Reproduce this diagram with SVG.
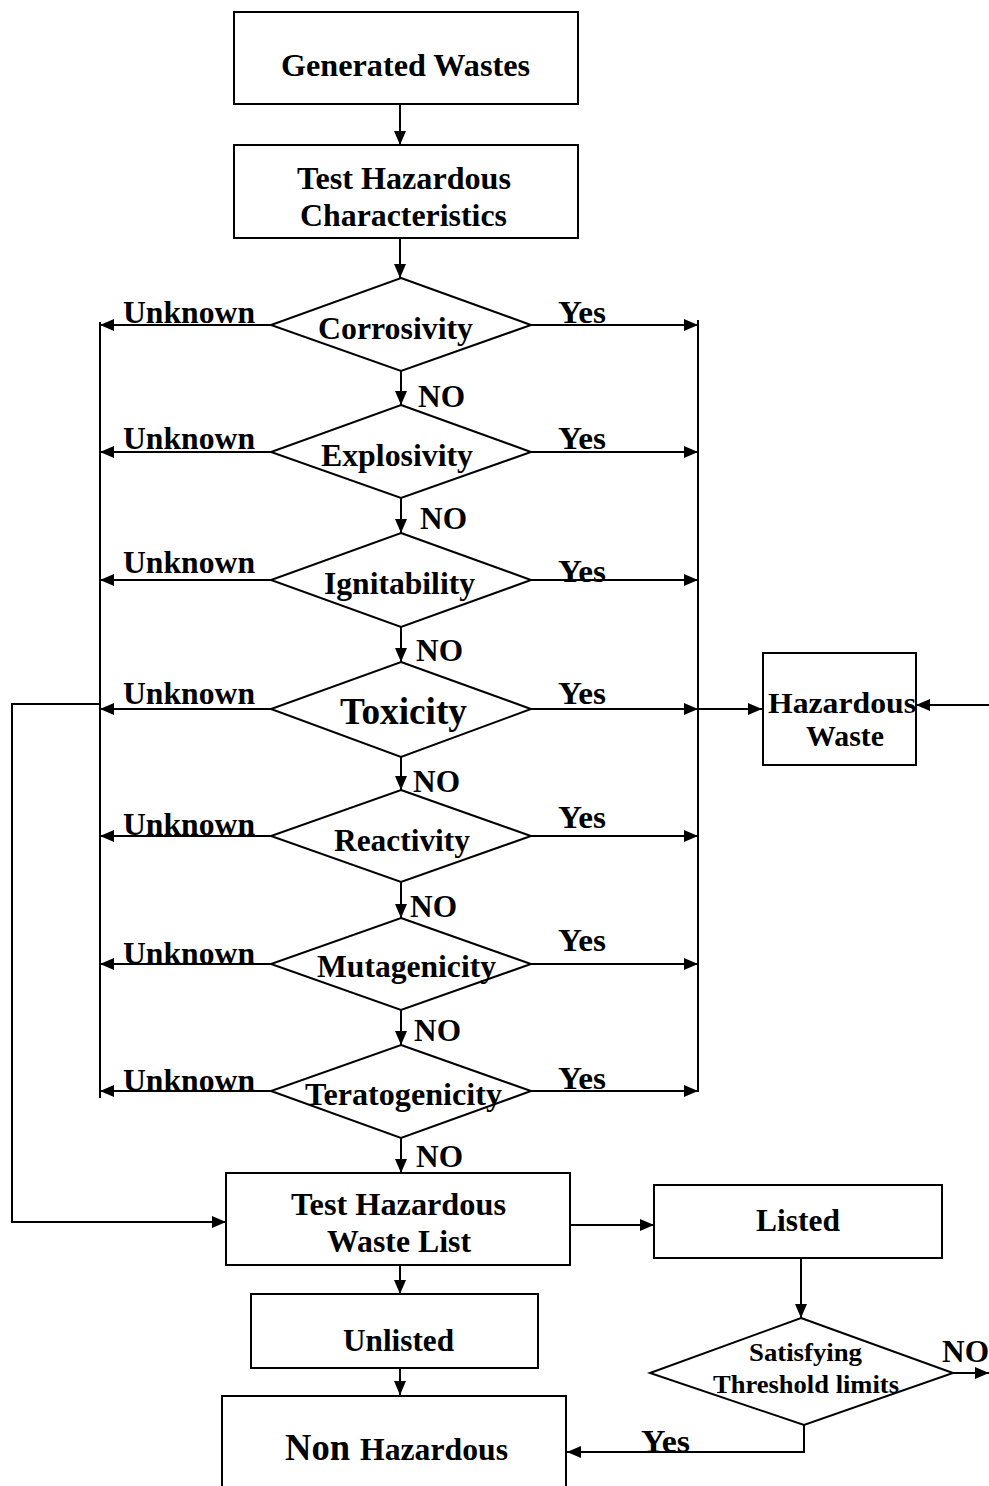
<svg xmlns="http://www.w3.org/2000/svg" width="989" height="1486" viewBox="0 0 989 1486">
<style>
.t{font-family:"Liberation Serif","Times New Roman",serif;font-weight:bold;fill:#000}
.b{fill:#fff;stroke:#000;stroke-width:2}
.c{fill:none;stroke:#000;stroke-width:2}
</style>
<defs>
<marker id="ah" viewBox="0 0 14 12" refX="14" refY="6" markerWidth="14" markerHeight="12" markerUnits="userSpaceOnUse" orient="auto"><path d="M0,0 L14,6 L0,12 z" fill="#000"/></marker>
</defs>
<rect width="989" height="1486" fill="#fff"/>
<g id="connectors">
<path class="c" d="M400,104 V145" marker-end="url(#ah)"/>
<path class="c" d="M400,238 V278" marker-end="url(#ah)"/>
<path class="c" d="M401,371 V405" marker-end="url(#ah)"/>
<path class="c" d="M401,498 V533" marker-end="url(#ah)"/>
<path class="c" d="M401,627 V662" marker-end="url(#ah)"/>
<path class="c" d="M401,757 V790" marker-end="url(#ah)"/>
<path class="c" d="M401,882 V918" marker-end="url(#ah)"/>
<path class="c" d="M401,1010 V1045" marker-end="url(#ah)"/>
<path class="c" d="M401,1138 V1173" marker-end="url(#ah)"/>
<path class="c" d="M100,322 V1098"/>
<path class="c" d="M698,320 V1092"/>
<path class="c" d="M271,325 H100" marker-end="url(#ah)"/>
<path class="c" d="M271,452 H100" marker-end="url(#ah)"/>
<path class="c" d="M271,580 H100" marker-end="url(#ah)"/>
<path class="c" d="M271,709 H100" marker-end="url(#ah)"/>
<path class="c" d="M271,836 H100" marker-end="url(#ah)"/>
<path class="c" d="M271,964 H100" marker-end="url(#ah)"/>
<path class="c" d="M271,1091 H100" marker-end="url(#ah)"/>
<path class="c" d="M531,325 H698" marker-end="url(#ah)"/>
<path class="c" d="M531,452 H698" marker-end="url(#ah)"/>
<path class="c" d="M531,580 H698" marker-end="url(#ah)"/>
<path class="c" d="M531,709 H698" marker-end="url(#ah)"/>
<path class="c" d="M531,836 H698" marker-end="url(#ah)"/>
<path class="c" d="M531,964 H698" marker-end="url(#ah)"/>
<path class="c" d="M531,1091 H698" marker-end="url(#ah)"/>
<path class="c" d="M698,709 H762" marker-end="url(#ah)"/>
<path class="c" d="M989,705 H916" marker-end="url(#ah)"/>
<path class="c" d="M100,704 H12 V1222 H226" marker-end="url(#ah)"/>
<path class="c" d="M570,1225 H654" marker-end="url(#ah)"/>
<path class="c" d="M400,1265 V1294" marker-end="url(#ah)"/>
<path class="c" d="M400,1368 V1395" marker-end="url(#ah)"/>
<path class="c" d="M801,1258 V1318" marker-end="url(#ah)"/>
<path class="c" d="M953,1373 H989" marker-end="url(#ah)"/>
<path class="c" d="M804,1425 V1452 H567" marker-end="url(#ah)"/>
</g>
<g id="generated">
<rect class="b" x="234" y="12" width="344" height="92"/>
<text class="t" x="281" y="76" font-size="31" textLength="249" lengthAdjust="spacingAndGlyphs">Generated Wastes</text>
</g>
<g id="testchar">
<rect class="b" x="234" y="145" width="344" height="93"/>
<text class="t" x="297" y="189" font-size="31" textLength="214" lengthAdjust="spacingAndGlyphs">Test Hazardous</text>
<text class="t" x="300" y="226" font-size="31" textLength="207" lengthAdjust="spacingAndGlyphs">Characteristics</text>
</g>
<g id="corrosivity">
<polygon class="b" points="401,278 531,325 401,371 271,325"/>
<text class="t" x="318" y="339" font-size="31" textLength="155" lengthAdjust="spacingAndGlyphs">Corrosivity</text>
</g>
<g id="explosivity">
<polygon class="b" points="401,405 531,452 401,498 271,452"/>
<text class="t" x="321" y="466" font-size="31" textLength="152" lengthAdjust="spacingAndGlyphs">Explosivity</text>
</g>
<g id="ignitability">
<polygon class="b" points="401,533 531,580 401,627 271,580"/>
<text class="t" x="324" y="594" font-size="31" textLength="151" lengthAdjust="spacingAndGlyphs">Ignitability</text>
</g>
<g id="toxicity">
<polygon class="b" points="401,662 531,709 401,757 271,709"/>
<text class="t" x="340" y="724" font-size="37" textLength="127" lengthAdjust="spacingAndGlyphs">Toxicity</text>
</g>
<g id="reactivity">
<polygon class="b" points="401,790 531,836 401,882 271,836"/>
<text class="t" x="334" y="851" font-size="31" textLength="136" lengthAdjust="spacingAndGlyphs">Reactivity</text>
</g>
<g id="mutagenicity">
<polygon class="b" points="401,918 531,964 401,1010 271,964"/>
<text class="t" x="317" y="977" font-size="31" textLength="179" lengthAdjust="spacingAndGlyphs">Mutagenicity</text>
</g>
<g id="teratogenicity">
<polygon class="b" points="401,1045 531,1091 401,1138 271,1091"/>
<text class="t" x="305" y="1105" font-size="31" textLength="197" lengthAdjust="spacingAndGlyphs">Teratogenicity</text>
</g>
<g id="labels">
<text class="t" x="123" y="323" font-size="31" textLength="132" lengthAdjust="spacingAndGlyphs">Unknown</text>
<text class="t" x="123" y="449" font-size="31" textLength="132" lengthAdjust="spacingAndGlyphs">Unknown</text>
<text class="t" x="123" y="573" font-size="31" textLength="132" lengthAdjust="spacingAndGlyphs">Unknown</text>
<text class="t" x="123" y="704" font-size="31" textLength="132" lengthAdjust="spacingAndGlyphs">Unknown</text>
<text class="t" x="123" y="835" font-size="31" textLength="132" lengthAdjust="spacingAndGlyphs">Unknown</text>
<text class="t" x="123" y="964" font-size="31" textLength="132" lengthAdjust="spacingAndGlyphs">Unknown</text>
<text class="t" x="123" y="1091" font-size="31" textLength="132" lengthAdjust="spacingAndGlyphs">Unknown</text>
<text class="t" x="558" y="323" font-size="31" textLength="48" lengthAdjust="spacingAndGlyphs">Yes</text>
<text class="t" x="558" y="449" font-size="31" textLength="48" lengthAdjust="spacingAndGlyphs">Yes</text>
<text class="t" x="558" y="582" font-size="31" textLength="48" lengthAdjust="spacingAndGlyphs">Yes</text>
<text class="t" x="558" y="704" font-size="31" textLength="48" lengthAdjust="spacingAndGlyphs">Yes</text>
<text class="t" x="558" y="828" font-size="31" textLength="48" lengthAdjust="spacingAndGlyphs">Yes</text>
<text class="t" x="558" y="951" font-size="31" textLength="48" lengthAdjust="spacingAndGlyphs">Yes</text>
<text class="t" x="558" y="1089" font-size="31" textLength="48" lengthAdjust="spacingAndGlyphs">Yes</text>
<text class="t" x="418" y="407" font-size="31" textLength="47" lengthAdjust="spacingAndGlyphs">NO</text>
<text class="t" x="420" y="529" font-size="31" textLength="47" lengthAdjust="spacingAndGlyphs">NO</text>
<text class="t" x="416" y="661" font-size="31" textLength="47" lengthAdjust="spacingAndGlyphs">NO</text>
<text class="t" x="413" y="792" font-size="31" textLength="47" lengthAdjust="spacingAndGlyphs">NO</text>
<text class="t" x="410" y="917" font-size="31" textLength="47" lengthAdjust="spacingAndGlyphs">NO</text>
<text class="t" x="414" y="1041" font-size="31" textLength="47" lengthAdjust="spacingAndGlyphs">NO</text>
<text class="t" x="416" y="1167" font-size="31" textLength="47" lengthAdjust="spacingAndGlyphs">NO</text>
<text class="t" x="942" y="1362" font-size="31" textLength="47" lengthAdjust="spacingAndGlyphs">NO</text>
<text class="t" x="641" y="1452" font-size="31" textLength="49" lengthAdjust="spacingAndGlyphs">Yes</text>
</g>
<g id="hazardous">
<rect class="b" x="763" y="653" width="153" height="112"/>
<text class="t" x="768" y="713" font-size="30" textLength="148" lengthAdjust="spacingAndGlyphs">Hazardous</text>
<text class="t" x="806" y="746" font-size="30" textLength="78" lengthAdjust="spacingAndGlyphs">Waste</text>
</g>
<g id="testlist">
<rect class="b" x="226" y="1173" width="344" height="92"/>
<text class="t" x="291" y="1215" font-size="31" textLength="215" lengthAdjust="spacingAndGlyphs">Test Hazardous</text>
<text class="t" x="327" y="1252" font-size="31" textLength="144" lengthAdjust="spacingAndGlyphs">Waste List</text>
</g>
<g id="listed">
<rect class="b" x="654" y="1185" width="288" height="73"/>
<text class="t" x="756" y="1231" font-size="31" textLength="84" lengthAdjust="spacingAndGlyphs">Listed</text>
</g>
<g id="unlisted">
<rect class="b" x="251" y="1294" width="287" height="74"/>
<text class="t" x="343" y="1351" font-size="31" textLength="111" lengthAdjust="spacingAndGlyphs">Unlisted</text>
</g>
<g id="threshold">
<polygon class="b" points="801,1318 953,1373 804,1425 650,1373"/>
<text class="t" x="749" y="1361" font-size="26" textLength="113" lengthAdjust="spacingAndGlyphs">Satisfying</text>
<text class="t" x="713" y="1393" font-size="26" textLength="186" lengthAdjust="spacingAndGlyphs">Threshold limits</text>
</g>
<g id="nonhazardous">
<rect class="b" x="222" y="1396" width="344" height="110"/>
<text class="t" x="285" y="1460" font-size="38" textLength="65" lengthAdjust="spacingAndGlyphs">Non</text>
<text class="t" x="360" y="1460" font-size="31" textLength="148" lengthAdjust="spacingAndGlyphs">Hazardous</text>
</g>
</svg>
